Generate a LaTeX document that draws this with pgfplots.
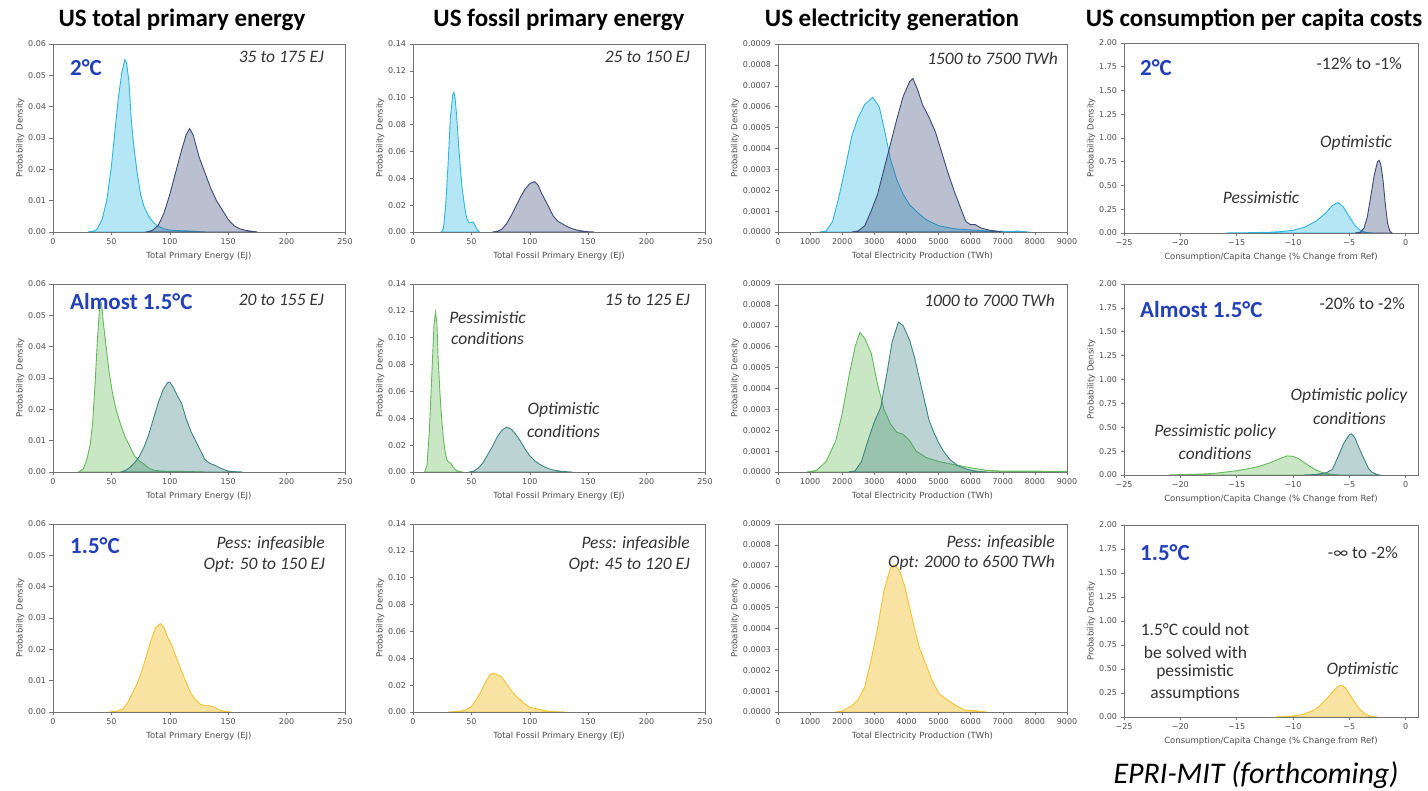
\documentclass[border=0pt]{standalone}
\usepackage{fontspec}
\setmainfont{Carlito}
\newfontfamily\dejavu{DejaVu Sans}
\usepackage{pgfplots}
\pgfplotsset{compat=1.18}
\definecolor{tickgray}{HTML}{4D4D4D}
\definecolor{cyanL}{HTML}{29B6E2}
\definecolor{navyD}{HTML}{3B4A78}
\definecolor{greenL}{HTML}{64B95A}
\definecolor{tealD}{HTML}{3D8580}
\definecolor{yellowL}{HTML}{F2C230}
\definecolor{titleblue}{HTML}{2340B8}
\definecolor{annot}{HTML}{333333}
\pgfplotsset{
  panel/.style={
    scale only axis, width=292pt, height=188pt, anchor=south west,
    axis line style={draw=black!55, line width=0.6pt},
    tick pos=left, tick align=outside, major tick length=3.5pt,
    tick style={draw=black!55, line width=0.5pt},
    tick label style={font=\dejavu\fontsize{8}{9}\selectfont, text=tickgray},
    label style={font=\dejavu\fontsize{8.5}{10}\selectfont, text=tickgray},
    ylabel style={yshift=-3pt},
    /pgf/number format/assume math mode=true,
    /pgf/number format/1000 sep={},
    scaled ticks=false,
    ylabel={Probability Density},
    enlargelimits=false, ymin=0,
  },
  colE/.style={panel, xmin=0, xmax=250, xtick={0,50,100,150,200,250}, ymax=0.06,
    ytick={0,0.01,0.02,0.03,0.04,0.05,0.06},
    yticklabel style={/pgf/number format/.cd, fixed, fixed zerofill, precision=2},
    xlabel={Total Primary Energy (EJ)}},
  colF/.style={panel, xmin=0, xmax=250, xtick={0,50,100,150,200,250}, ymax=0.14,
    ytick={0,0.02,0.04,0.06,0.08,0.10,0.12,0.14},
    yticklabel style={/pgf/number format/.cd, fixed, fixed zerofill, precision=2},
    xlabel={Total Fossil Primary Energy (EJ)}},
  colP/.style={panel, xmin=0, xmax=9000, xtick={0,1000,2000,3000,4000,5000,6000,7000,8000,9000}, ymax=0.0009,
    ytick={0,0.0001,0.0002,0.0003,0.0004,0.0005,0.0006,0.0007,0.0008,0.0009},
    yticklabel style={/pgf/number format/.cd, fixed, fixed zerofill, precision=4},
    xlabel={Total Electricity Production (TWh)}},
  colC/.style={panel, width=294pt, xmin=-25, xmax=1.1, xtick={-25,-20,-15,-10,-5,0},
    xticklabels={−25,−20,−15,−10,−5,0}, ymax=2.0,
    ytick={0,0.25,0.5,0.75,1.0,1.25,1.5,1.75,2.0},
    yticklabel style={/pgf/number format/.cd, fixed, fixed zerofill, precision=2},
    xlabel={Consumption/Capita Change (\% Change from Ref)}},
  kde/.style={draw=#1, fill=#1, fill opacity=0.35, line width=0.9pt},
  kdey/.style={draw=#1, fill=#1, fill opacity=0.45, line width=0.9pt},
}
\begin{document}
\begin{tikzpicture}[x=1pt,y=1pt]
\path[use as bounding box] (0,0) rectangle (1428,791);

% ---------------- Row 1 : 2C ----------------
\begin{axis}[colE, at={(53pt,559pt)}]
\addplot[kde=cyanL] coordinates {(30,0) (35,0.0003) (38,0.001) (42,0.004) (46,0.01) (50,0.021) (53,0.032) (56,0.043) (59,0.051) (61.5,0.055) (63,0.054) (65,0.048) (67,0.036) (69,0.028) (72,0.019) (75,0.012) (78,0.008) (82,0.005) (86,0.003) (90,0.0018) (95,0.001) (100,0.0006) (110,0.0004) (118,0.0003) (125,0.0001) (130,0)} \closedcycle;
\addplot[kde=navyD] coordinates {(80,0) (85,0.0005) (90,0.002) (95,0.006) (100,0.012) (105,0.019) (110,0.026) (114,0.031) (117,0.033) (120,0.031) (125,0.024) (130,0.019) (135,0.014) (140,0.01) (145,0.007) (150,0.004) (155,0.002) (160,0.001) (165,0.0005) (175,0)} \closedcycle;
\end{axis}
\begin{axis}[colF, at={(413pt,559pt)}]
\addplot[kde=cyanL] coordinates {(24,0) (26,0.002) (28,0.02) (30,0.05) (32,0.085) (34,0.102) (35,0.104) (36,0.1) (37.5,0.085) (39,0.065) (40.5,0.048) (42,0.033) (44,0.02) (46,0.01) (48,0.007) (50,0.007) (51.5,0.0075) (53,0.005) (55,0.0015) (57,0)} \closedcycle;
\addplot[kde=navyD] coordinates {(68,0) (72,0.0005) (76,0.002) (80,0.006) (84,0.012) (88,0.019) (92,0.026) (96,0.032) (100,0.036) (104,0.0375) (107,0.035) (110,0.029) (113,0.024) (116,0.019) (120,0.012) (124,0.008) (128,0.006) (132,0.004) (136,0.0025) (140,0.0015) (145,0.0007) (150,0.0002) (155,0)} \closedcycle;
\end{axis}
\begin{axis}[colP, at={(778pt,559pt)}, width=289pt]
\addplot[kde=cyanL] coordinates {(1300,0) (1500,0.000005) (1700,0.00005) (1900,0.00017) (2100,0.00031) (2300,0.00046) (2500,0.00055) (2700,0.00061) (2950,0.000645) (3150,0.0006) (3300,0.0005) (3500,0.00035) (3700,0.00025) (3900,0.00018) (4100,0.00013) (4300,0.0001) (4600,0.00006) (5000,0.00003) (5500,0.000015) (6000,0.00001) (6500,0.000005) (7000,0.000003) (7500,0.000004) (7800,0)} \closedcycle;
\addplot[kde=navyD] coordinates {(2300,0) (2500,0.000005) (2700,0.00003) (2900,0.0001) (3100,0.00018) (3300,0.0003) (3500,0.00042) (3700,0.00054) (3900,0.00065) (4100,0.00072) (4200,0.000735) (4350,0.00068) (4500,0.00061) (4700,0.00055) (4900,0.00048) (5100,0.00038) (5300,0.00028) (5500,0.00019) (5700,0.00011) (5850,0.00005) (6000,0.000035) (6150,0.000035) (6300,0.00002) (6600,0.000008) (7000,0)} \closedcycle;
\end{axis}
\begin{axis}[colC, at={(1124pt,558pt)}, height=190pt]
\addplot[kde=cyanL] coordinates {(-16,0) (-14,0.003) (-12,0.008) (-11,0.015) (-10,0.028) (-9,0.06) (-8,0.12) (-7,0.22) (-6.5,0.29) (-6,0.32) (-5.5,0.27) (-5,0.17) (-4.5,0.08) (-4,0.025) (-3.5,0.005) (-3,0)} \closedcycle;
\addplot[kde=navyD] coordinates {(-4.5,0) (-4,0.01) (-3.7,0.05) (-3.4,0.17) (-3.1,0.38) (-2.8,0.6) (-2.5,0.75) (-2.35,0.765) (-2.2,0.72) (-2.0,0.55) (-1.8,0.3) (-1.6,0.1) (-1.4,0.02) (-1.2,0)} \closedcycle;
\end{axis}

% ---------------- Row 2 : Almost 1.5C ----------------
\begin{axis}[colE, at={(53pt,319pt)}]
\addplot[kde=greenL] coordinates {(22,0) (26,0.001) (29,0.004) (32,0.009) (34,0.016) (36,0.028) (38,0.042) (40,0.053) (41.5,0.054) (43,0.048) (45.5,0.04) (48,0.032) (51,0.025) (54,0.02) (58,0.015) (62,0.011) (66,0.008) (70,0.005) (74,0.0035) (78,0.0025) (82,0.0012) (86,0.0006) (92,0.0003) (100,0.0002) (110,0.0002) (120,0.0001) (130,0)} \closedcycle;
\addplot[kde=tealD] coordinates {(58,0) (62,0.0005) (66,0.0015) (70,0.003) (74,0.005) (78,0.008) (82,0.012) (86,0.017) (90,0.022) (94,0.026) (98,0.0285) (100,0.0287) (103,0.027) (107,0.024) (110,0.022) (114,0.017) (118,0.013) (122,0.01) (126,0.007) (130,0.004) (134,0.0028) (138,0.0022) (142,0.0015) (146,0.0008) (150,0.0003) (156,0.0001) (162,0)} \closedcycle;
\end{axis}
\begin{axis}[colF, at={(413pt,319pt)}]
\addplot[kde=greenL] coordinates {(10,0) (12,0.005) (14,0.03) (16,0.07) (18,0.11) (19.3,0.119) (20.5,0.11) (21.5,0.085) (23,0.06) (24.5,0.04) (26,0.025) (27.5,0.015) (29,0.009) (31,0.007) (32.5,0.0065) (34,0.004) (36,0.002) (38,0.0008) (42,0)} \closedcycle;
\addplot[kde=tealD] coordinates {(48,0) (52,0.0007) (56,0.003) (60,0.007) (64,0.013) (68,0.019) (72,0.026) (76,0.031) (80,0.0334) (84,0.032) (88,0.028) (92,0.023) (96,0.017) (100,0.012) (104,0.0085) (108,0.006) (112,0.004) (116,0.0025) (120,0.0015) (125,0.0007) (130,0.0003) (136,0)} \closedcycle;
\end{axis}
\begin{axis}[colP, at={(778pt,319pt)}, width=289pt]
\addplot[kde=greenL] coordinates {(900,0) (1200,0.000008) (1500,0.00005) (1800,0.00015) (2000,0.00028) (2200,0.00045) (2400,0.0006) (2550,0.000668) (2700,0.00064) (2900,0.00057) (3100,0.00042) (3300,0.0003) (3500,0.00023) (3700,0.00019) (3900,0.00018) (4100,0.00015) (4300,0.0001) (4600,0.00007) (5000,0.00005) (5500,0.000035) (6000,0.00002) (6500,0.000008) (7000,0.000004) (8000,0.000004) (8990,0.000003) (8990,0)} \closedcycle;
\addplot[kde=tealD] coordinates {(2200,0) (2400,0.000005) (2600,0.00005) (2800,0.00015) (3000,0.00024) (3200,0.00031) (3400,0.00048) (3550,0.00062) (3750,0.000718) (3900,0.0007) (4100,0.00063) (4250,0.00055) (4400,0.00045) (4550,0.00035) (4700,0.00025) (4850,0.00019) (5000,0.00014) (5150,0.0001) (5350,0.00006) (5600,0.00003) (5900,0.000012) (6200,0.000003) (6500,0)} \closedcycle;
\end{axis}
\begin{axis}[colC, at={(1124pt,316pt)}, height=191pt]
\addplot[kde=greenL] coordinates {(-21,0) (-20,0.004) (-18,0.01) (-17,0.017) (-16,0.03) (-15,0.045) (-14,0.065) (-13,0.09) (-12,0.13) (-11,0.18) (-10.5,0.2) (-10,0.195) (-9.5,0.17) (-9,0.13) (-8.5,0.09) (-8,0.055) (-7.5,0.03) (-7,0.015) (-6.5,0.005) (-6,0)} \closedcycle;
\addplot[kde=tealD] coordinates {(-9,0) (-8,0.005) (-7,0.025) (-6.5,0.06) (-6,0.19) (-5.5,0.33) (-5,0.42) (-4.8,0.43) (-4.5,0.39) (-4.2,0.3) (-3.7,0.17) (-3.3,0.07) (-3,0.03) (-2.6,0.008) (-2.3,0)} \closedcycle;
\end{axis}

% ---------------- Row 3 : 1.5C ----------------
\begin{axis}[colE, at={(53pt,79pt)}]
\addplot[kdey=yellowL] coordinates {(48,0) (55,0.0003) (60,0.001) (64,0.003) (68,0.006) (72,0.009) (76,0.013) (80,0.018) (84,0.023) (88,0.027) (92,0.0282) (95,0.027) (98,0.024) (102,0.021) (106,0.017) (110,0.013) (114,0.0095) (118,0.006) (122,0.004) (126,0.0025) (130,0.002) (134,0.002) (138,0.0015) (142,0.0007) (146,0.0003) (152,0)} \closedcycle;
\end{axis}
\begin{axis}[colF, at={(413pt,79pt)}]
\addplot[kdey=yellowL] coordinates {(30,0) (40,0.0005) (45,0.0015) (50,0.004) (54,0.009) (58,0.015) (62,0.022) (66,0.028) (68,0.0287) (72,0.028) (76,0.026) (80,0.021) (84,0.016) (88,0.012) (92,0.009) (96,0.006) (100,0.0035) (105,0.0025) (110,0.0015) (115,0.0007) (120,0.0003) (130,0)} \closedcycle;
\end{axis}
\begin{axis}[colP, at={(778pt,79pt)}, width=289pt]
\addplot[kdey=yellowL] coordinates {(1800,0) (2000,0.000005) (2300,0.00003) (2500,0.00006) (2700,0.00012) (2900,0.00025) (3100,0.0004) (3300,0.00058) (3500,0.00069) (3650,0.000705) (3800,0.00067) (3950,0.0006) (4100,0.0005) (4250,0.0004) (4400,0.00031) (4600,0.00023) (4800,0.00015) (5000,0.00009) (5250,0.00006) (5500,0.000035) (5800,0.00001) (6200,0.000005) (6500,0)} \closedcycle;
\end{axis}
\begin{axis}[colC, at={(1124pt,74pt)}, height=192pt]
\addplot[kdey=yellowL] coordinates {(-11.5,0) (-10.5,0.005) (-10,0.01) (-9,0.03) (-8,0.08) (-7.5,0.13) (-7,0.19) (-6.5,0.26) (-6,0.32) (-5.7,0.33) (-5.3,0.3) (-5,0.24) (-4.5,0.15) (-4,0.07) (-3.5,0.025) (-3,0.006) (-2.5,0)} \closedcycle;
\end{axis}

% ---------------- Titles ----------------
\begin{scope}[every node/.style={inner sep=0pt, font=\bfseries\fontsize{25}{28}\selectfont, text=black}]
\node[anchor=base] at (182,764) {US total primary energy};
\node[anchor=base] at (559,764) {US fossil primary energy};
\node[anchor=base] at (892,764) {US electricity generation};
\node[anchor=base] at (1254,764) {US consumption per capita costs};
\end{scope}

% ---------------- Scenario labels ----------------
\begin{scope}[every node/.style={inner sep=0pt, anchor=west, font=\bfseries\fontsize{23}{26}\selectfont, text=titleblue}]
\node at (70,723) {2°C};
\node at (1140,723) {2°C};
\node at (70,489) {Almost 1.5°C};
\node at (1140,481) {Almost 1.5°C};
\node at (70,245) {1.5°C};
\node at (1140,238) {1.5°C};
\end{scope}

% ---------------- Range annotations ----------------
\begin{scope}[every node/.style={inner sep=0pt, anchor=east, font=\itshape\fontsize{17.5}{20}\selectfont, text=annot}]
\node at (324,734) {35 to 175 EJ};
\node at (690,734) {25 to 150 EJ};
\node at (1058,732) {1500 to 7500 TWh};
\node at (324,491) {20 to 155 EJ};
\node at (690,491) {15 to 125 EJ};
\node at (1055,490) {1000 to 7000 TWh};
\node at (325,248) {Pess: infeasible};
\node at (325,226) {Opt: 50 to 150 EJ};
\node at (690,248) {Pess: infeasible};
\node at (690,226) {Opt: 45 to 120 EJ};
\node at (1055,249) {Pess: infeasible};
\node at (1055,228) {Opt: 2000 to 6500 TWh};
\end{scope}
\begin{scope}[every node/.style={inner sep=0pt, anchor=east, font=\fontsize{17.5}{20}\selectfont, text=annot}]
\node at (1402,727) {-12\% to -1\%};
\node at (1405,487) {-20\% to -2\%};
\node at (1398,238) {-∞ to -2\%};
\end{scope}

% ---------------- Condition labels ----------------
\begin{scope}[every node/.style={inner sep=0pt, anchor=center, font=\itshape\fontsize{17.5}{20}\selectfont, text=annot}]
\node at (1356,648) {Optimistic};
\node at (1261,593) {Pessimistic};
\node at (487.5,473) {Pessimistic};
\node at (487.5,452) {conditions};
\node at (563.5,381) {Optimistic};
\node at (563.5,360) {conditions};
\node at (1349,395) {Optimistic policy};
\node at (1349.5,373) {conditions};
\node at (1215,359) {Pessimistic policy};
\node at (1215,338) {conditions};
\node at (1362.5,121) {Optimistic};
\end{scope}
\begin{scope}[every node/.style={inner sep=0pt, anchor=center, font=\fontsize{17.5}{20}\selectfont, text=annot}]
\node at (1195,161) {1.5°C could not};
\node at (1195.5,139) {be solved with};
\node at (1195,119) {pessimistic};
\node at (1195,97) {assumptions};
\end{scope}

\node[inner sep=0pt, anchor=center, font=\itshape\fontsize{30}{34}\selectfont, text=black] at (1256,16) {EPRI-MIT (forthcoming)};
\end{tikzpicture}
\end{document}
